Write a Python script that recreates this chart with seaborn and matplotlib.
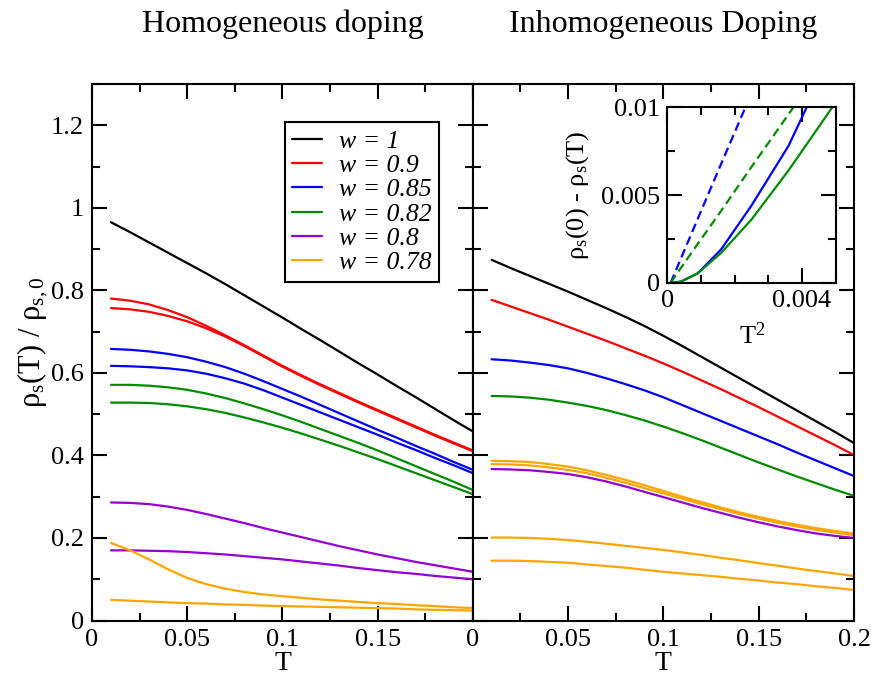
import matplotlib
matplotlib.use("Agg")
import matplotlib.pyplot as plt
import seaborn as sns
from matplotlib.ticker import FixedLocator, FixedFormatter, MultipleLocator
from matplotlib.lines import Line2D

# ---------------------------------------------------------------- data
T = [0.01, 0.02, 0.03, 0.04, 0.05, 0.06, 0.07, 0.08, 0.09, 0.10,
     0.11, 0.12, 0.13, 0.14, 0.15, 0.16, 0.17, 0.18, 0.19, 0.20]

# Homogeneous doping: rho_s(T)/rho_s,0
hom_w100 = [0.965, 0.941, 0.916, 0.891, 0.866, 0.841, 0.815, 0.788, 0.761, 0.734,
            0.706, 0.679, 0.651, 0.623, 0.596, 0.568, 0.541, 0.513, 0.485, 0.458]
hom_w090a = [0.780, 0.775, 0.766, 0.752, 0.735, 0.714, 0.691, 0.667, 0.642, 0.617,
             0.594, 0.572, 0.551, 0.530, 0.510, 0.490, 0.470, 0.450, 0.431, 0.412]
hom_w090b = [0.757, 0.754, 0.748, 0.738, 0.725, 0.708, 0.688, 0.665, 0.640, 0.615,
             0.592, 0.570, 0.549, 0.528, 0.508, 0.488, 0.468, 0.448, 0.429, 0.410]
hom_w085a = [0.658, 0.656, 0.652, 0.646, 0.638, 0.627, 0.614, 0.598, 0.580, 0.561,
             0.542, 0.522, 0.502, 0.482, 0.462, 0.443, 0.423, 0.404, 0.384, 0.365]
hom_w085b = [0.617, 0.616, 0.614, 0.611, 0.606, 0.598, 0.587, 0.574, 0.558, 0.540,
             0.522, 0.504, 0.486, 0.468, 0.450, 0.431, 0.413, 0.394, 0.376, 0.357]
hom_w082a = [0.571, 0.571, 0.569, 0.565, 0.559, 0.550, 0.539, 0.526, 0.512, 0.497,
             0.481, 0.464, 0.447, 0.430, 0.412, 0.393, 0.374, 0.355, 0.336, 0.316]
hom_w082b = [0.528, 0.528, 0.527, 0.524, 0.519, 0.512, 0.503, 0.492, 0.480, 0.467,
             0.453, 0.438, 0.423, 0.407, 0.391, 0.374, 0.357, 0.340, 0.323, 0.306]
hom_w080a = [0.286, 0.285, 0.282, 0.276, 0.268, 0.258, 0.247, 0.236, 0.224, 0.213,
             0.202, 0.191, 0.180, 0.170, 0.160, 0.151, 0.142, 0.134, 0.126, 0.118]
hom_w080b = [0.170, 0.170, 0.169, 0.168, 0.166, 0.163, 0.160, 0.156, 0.152, 0.148,
             0.143, 0.138, 0.133, 0.127, 0.122, 0.117, 0.113, 0.108, 0.104, 0.100]
hom_w078a = [0.188, 0.170, 0.148, 0.124, 0.103, 0.088, 0.077, 0.069, 0.063, 0.059,
             0.055, 0.051, 0.048, 0.045, 0.042, 0.040, 0.037, 0.035, 0.032, 0.030]
hom_w078b = [0.050, 0.048, 0.046, 0.044, 0.042, 0.041, 0.039, 0.038, 0.036, 0.035,
             0.034, 0.033, 0.032, 0.031, 0.030, 0.029, 0.027, 0.026, 0.025, 0.024]

# Inhomogeneous doping
inh_w100 = [0.874, 0.854, 0.835, 0.816, 0.797, 0.777, 0.757, 0.736, 0.714, 0.690,
            0.665, 0.639, 0.613, 0.587, 0.561, 0.535, 0.509, 0.483, 0.457, 0.430]
inh_w090 = [0.777, 0.761, 0.745, 0.729, 0.712, 0.695, 0.678, 0.660, 0.642, 0.623,
            0.603, 0.582, 0.561, 0.539, 0.517, 0.494, 0.471, 0.448, 0.425, 0.401]
inh_w085 = [0.633, 0.630, 0.625, 0.619, 0.611, 0.600, 0.587, 0.573, 0.558, 0.541,
            0.522, 0.503, 0.484, 0.465, 0.446, 0.427, 0.407, 0.388, 0.369, 0.350]
inh_w082 = [0.544, 0.543, 0.540, 0.535, 0.528, 0.520, 0.510, 0.498, 0.485, 0.470,
            0.454, 0.437, 0.419, 0.401, 0.383, 0.366, 0.349, 0.333, 0.317, 0.302]
inh_w080 = [0.367, 0.366, 0.364, 0.360, 0.355, 0.347, 0.337, 0.325, 0.312, 0.299,
            0.286, 0.273, 0.261, 0.249, 0.238, 0.228, 0.219, 0.211, 0.205, 0.200]
inh_w078a = [0.387, 0.386, 0.384, 0.379, 0.373, 0.364, 0.353, 0.341, 0.328, 0.314,
             0.300, 0.287, 0.274, 0.262, 0.251, 0.241, 0.232, 0.224, 0.217, 0.211]
inh_w078b = [0.379, 0.378, 0.376, 0.371, 0.365, 0.357, 0.346, 0.334, 0.321, 0.308,
             0.295, 0.282, 0.270, 0.258, 0.247, 0.237, 0.228, 0.220, 0.213, 0.207]
inh_w078c = [0.201, 0.201, 0.200, 0.198, 0.195, 0.191, 0.186, 0.181, 0.176, 0.171,
             0.165, 0.159, 0.152, 0.146, 0.139, 0.133, 0.126, 0.120, 0.114, 0.108]
inh_w078d = [0.145, 0.145, 0.144, 0.142, 0.140, 0.136, 0.132, 0.128, 0.123, 0.118,
             0.114, 0.110, 0.106, 0.101, 0.097, 0.092, 0.088, 0.083, 0.079, 0.074]

# Inset: rho_s(0) - rho_s(T) against T^2
T2 = [0.0001, 0.0004, 0.0009, 0.0016, 0.0025, 0.0036, 0.0049]
ins_blue = [0.0, 0.00006, 0.00053, 0.0019, 0.0044, 0.0078, 0.0131]
ins_green = [0.0, 0.00006, 0.00053, 0.0017, 0.0036, 0.0064, 0.0100]
ins_blue_fit = [0.0, 0.00136, 0.00362, 0.00678, 0.0108, 0.0158, 0.0217]
ins_green_fit = [0.0, 0.00083, 0.0022, 0.0041, 0.0066, 0.0096, 0.0132]

w_labels = ["w = 1", "w = 0.9", "w = 0.85", "w = 0.82", "w = 0.8", "w = 0.78"]
titles = ["Homogeneous doping", "Inhomogeneous Doping"]

# ---------------------------------------------------------------- style
sns.set_theme(style="ticks")
plt.rcParams["font.family"] = ["Liberation Serif", "DejaVu Serif"]
plt.rcParams["mathtext.fontset"] = "custom"
plt.rcParams["mathtext.rm"] = "Liberation Serif"
plt.rcParams["mathtext.it"] = "Liberation Serif:italic"
plt.rcParams["axes.linewidth"] = 1.5
plt.rcParams["axes.edgecolor"] = "black"
for key in ("text.color", "axes.labelcolor", "xtick.color", "ytick.color",
            "xtick.labelcolor", "ytick.labelcolor"):
    plt.rcParams[key] = "black"

BLACK, RED, BLUE = "#000000", "#ff0000", "#0000ff"
GREEN, VIOLET, ORANGE = "#008b00", "#9400d3", "#ffa500"
colors = [BLACK, RED, BLUE, GREEN, VIOLET, ORANGE]
LW = 1.6
FS = 19

fig = plt.figure(figsize=(8.71, 6.78), dpi=100)
ax1 = fig.add_axes([0.1056, 0.0848, 0.4374, 0.7913])
ax2 = fig.add_axes([0.5425, 0.0848, 0.4380, 0.7913])


def curve(ax, y, color):
    sns.lineplot(x=T, y=y, ax=ax, color=color, lw=LW, legend=False)


left_sets = [
    (hom_w100, BLACK),
    (hom_w090a, RED), (hom_w090b, RED),
    (hom_w085a, BLUE), (hom_w085b, BLUE),
    (hom_w082a, GREEN), (hom_w082b, GREEN),
    (hom_w080a, VIOLET), (hom_w080b, VIOLET),
    (hom_w078a, ORANGE), (hom_w078b, ORANGE),
]
for y, c in left_sets:
    curve(ax1, y, c)

right_sets = [
    (inh_w100, BLACK), (inh_w090, RED), (inh_w085, BLUE), (inh_w082, GREEN),
    (inh_w078a, ORANGE), (inh_w078b, ORANGE), (inh_w080, VIOLET),
    (inh_w078c, ORANGE), (inh_w078d, ORANGE),
]
for y, c in right_sets:
    curve(ax2, y, c)

ytick_vals = [0, 0.2, 0.4, 0.6, 0.8, 1.0, 1.2]
ytick_txt = ["0", "0.2", "0.4", "0.6", "0.8", "1", "1.2"]
xtick_vals = [0, 0.05, 0.1, 0.15, 0.2]

for i, ax in enumerate((ax1, ax2)):
    ax.set_xlim(0, 0.2)
    ax.set_ylim(0, 1.3)
    ax.xaxis.set_major_locator(FixedLocator(xtick_vals))
    xt = ["0", "0.05", "0.1", "0.15", "" if i == 0 else "0.2"]
    ax.xaxis.set_major_formatter(FixedFormatter(xt))
    ax.xaxis.set_minor_locator(MultipleLocator(0.025))
    ax.yaxis.set_major_locator(FixedLocator(ytick_vals))
    ax.yaxis.set_major_formatter(FixedFormatter(ytick_txt))
    ax.yaxis.set_minor_locator(MultipleLocator(0.1))
    ax.tick_params(which="both", direction="in", top=True, right=True,
                   width=1.5, color="black", labelcolor="black", labelsize=FS, pad=6)
    ax.tick_params(which="major", length=11)
    ax.tick_params(which="minor", length=6)
    if i == 1:
        ax.tick_params(labelleft=False)
    ax.set_xlabel("")
    ax.set_ylabel("")
    for s in ax.spines.values():
        s.set_linewidth(1.5)
        s.set_color("black")
    ax.set_facecolor("white")

# legend
handles = [Line2D([0], [0], color=c, lw=LW) for c in colors]
leg = ax1.legend(handles, w_labels, loc="upper right", bbox_to_anchor=(0.911, 0.929),
                 borderaxespad=0, frameon=True, fancybox=False, framealpha=1,
                 edgecolor="black",
                 prop={"family": "Liberation Serif", "style": "italic", "size": 18.5},
                 handlelength=1.15, handletextpad=0.65, labelspacing=0.05, borderpad=0.3)
leg.get_frame().set_linewidth(1.5)

# inset
axi = fig.add_axes([0.7661, 0.583, 0.1933, 0.2587])
sns.lineplot(x=T2, y=ins_blue_fit, ax=axi, color=BLUE, lw=LW)
axi.lines[-1].set_dashes((4, 2.2))
sns.lineplot(x=T2, y=ins_green_fit, ax=axi, color=GREEN, lw=LW)
axi.lines[-1].set_dashes((4, 2.2))
sns.lineplot(x=T2, y=ins_blue, ax=axi, color=BLUE, lw=LW)
sns.lineplot(x=T2, y=ins_green, ax=axi, color=GREEN, lw=LW)
axi.set_xlim(0, 0.005)
axi.set_ylim(0, 0.01)
axi.xaxis.set_major_locator(FixedLocator([0, 0.004]))
axi.xaxis.set_major_formatter(FixedFormatter(["0", "0.004"]))
axi.xaxis.set_minor_locator(MultipleLocator(0.001))
axi.yaxis.set_major_locator(FixedLocator([0, 0.005, 0.01]))
axi.yaxis.set_major_formatter(FixedFormatter(["0", "0.005", "0.01"]))
axi.yaxis.set_minor_locator(MultipleLocator(0.0025))
axi.tick_params(which="both", direction="in", top=True, right=True,
                width=1.5, color="black", labelcolor="black", labelsize=FS, pad=5)
axi.tick_params(which="major", length=11)
axi.tick_params(which="minor", length=6)
axi.set_xlabel("")
axi.set_ylabel("")
for s in axi.spines.values():
    s.set_linewidth(1.5)
    s.set_color("black")

# texts
H = 678.0
W = 871.0
fig.text(283 / W, 1 - 32 / H, titles[0], ha="center", va="baseline", fontsize=23)
fig.text(663 / W, 1 - 32 / H, titles[1], ha="center", va="baseline", fontsize=23)
fig.text(283 / W, 1 - 664 / H, "T", ha="center", va="center", fontsize=FS + 1)
fig.text(663 / W, 1 - 664 / H, "T", ha="center", va="center", fontsize=FS + 1)
fig.text(33 / W, 1 - 342 / H, r"$\mathregular{ρ_s}$(T) / $\mathregular{ρ_{s,0}}$",
         ha="center", va="center", rotation=90, fontsize=22)
fig.text(578 / W, 1 - 195 / H, r"$\mathregular{ρ_s}$(0) - $\mathregular{ρ_s}$(T)",
         ha="center", va="center", rotation=90, fontsize=FS)
fig.text(752 / W, 1 - 336 / H, r"T$\mathregular{^2}$", ha="center", va="center", fontsize=FS)

fig.savefig("out.png", dpi=100, facecolor="white")
